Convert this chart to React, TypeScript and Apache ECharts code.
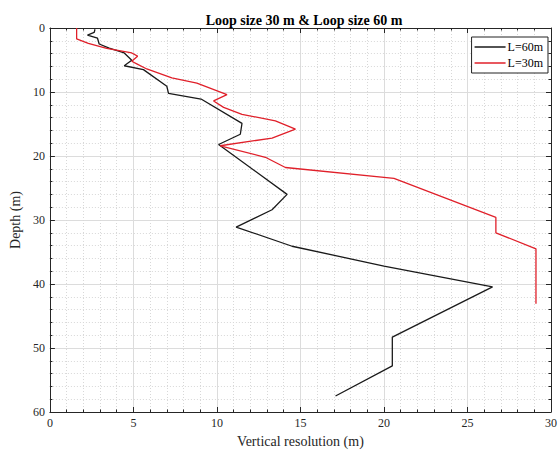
import React, { useEffect, useRef } from "react";
import * as echarts from "echarts";

const titleText = "Loop size 30 m & Loop size 60 m";
const xAxisName = "Vertical resolution (m)";
const yAxisName = "Depth (m)";

// L=60m (black): vertical resolution (m), depth (m)
const res60 = [2.7, 2.65, 2.25, 2.85, 2.95, 3.55, 4.45, 4.9, 4.45, 5.6, 7.0, 7.1, 9.05, 11.5, 11.4, 10.1, 14.2, 13.3, 11.15, 14.5, 20.0, 26.5, 20.5, 20.5, 17.1];
const depth60 = [0.2, 0.7, 1.1, 1.6, 2.5, 3.15, 3.9, 5.05, 5.9, 6.5, 9.1, 10.2, 11.1, 14.9, 16.6, 18.2, 26.0, 28.4, 31.1, 34.1, 37.2, 40.45, 48.3, 52.8, 57.5];

// L=30m (red)
const res30 = [1.6, 1.6, 2.3, 3.4, 4.9, 5.25, 4.9, 5.2, 5.8, 7.3, 8.8, 10.6, 9.8, 10.4, 11.5, 13.5, 14.7, 13.3, 10.2, 12.9, 14.1, 20.6, 26.7, 26.7, 29.1, 29.1];
const depth30 = [0, 1.7, 2.4, 3.2, 3.9, 4.4, 5.2, 5.6, 6.4, 7.8, 8.6, 10.4, 11.4, 12.4, 13.5, 14.5, 15.8, 17.2, 18.4, 20.2, 21.8, 23.5, 29.6, 32.0, 34.5, 43.1];

const FONT = "'Liberation Serif', 'Times New Roman', serif";

export default function App() {
  const ref = useRef<HTMLDivElement>(null);
  useEffect(() => {
    if (!ref.current) return;
    const chart = echarts.init(ref.current, undefined, { renderer: "svg" });
    const pair = (xs: number[], ys: number[]) => xs.map((x, i) => [x, ys[i]]);
    const boxAxisX = {
      type: "value" as const,
      min: 0,
      max: 30,
      interval: 5,
      axisLine: { show: true, onZero: false, lineStyle: { color: "#262626", width: 1 } },
      axisTick: { show: true, inside: true, length: 5, lineStyle: { color: "#262626" } },
      minorTick: { show: true, splitNumber: 5, length: 2.5, lineStyle: { color: "#262626" } },
    };
    const boxAxisY = {
      type: "value" as const,
      min: 0,
      max: 60,
      interval: 10,
      inverse: true,
      axisLine: { show: true, onZero: false, lineStyle: { color: "#262626", width: 1 } },
      axisTick: { show: true, inside: true, length: 5, lineStyle: { color: "#262626" } },
      minorTick: { show: true, splitNumber: 5, length: 2.5, lineStyle: { color: "#262626" } },
    };
    chart.setOption({
      animation: false,
      backgroundColor: "#ffffff",
      title: {
        text: titleText,
        left: 299,
        textAlign: "center",
        top: 8,
        textStyle: { fontFamily: FONT, fontWeight: "bold", fontSize: 14, color: "#000" },
      },
      legend: {
        orient: "vertical",
        right: 12,
        top: 37,
        padding: [4, 5, 4, 3],
        itemGap: 4,
        itemWidth: 31,
        itemHeight: 1.5,
        icon: "rect",
        borderColor: "#222",
        borderWidth: 1,
        borderRadius: 0,
        backgroundColor: "#fff",
        textStyle: { fontFamily: FONT, fontSize: 12, color: "#000", padding: [0, 0, 0, -3] },
        data: ["L=60m", "L=30m"],
      },
      grid: { left: 45, right: 6, top: 28, bottom: 37, containLabel: false },
      xAxis: [
        {
          ...boxAxisX,
          position: "bottom",
          name: xAxisName,
          nameLocation: "middle",
          nameGap: 22,
          nameTextStyle: { fontFamily: FONT, fontSize: 14, color: "#262626" },
          axisLabel: { fontFamily: FONT, fontSize: 12, color: "#262626", margin: 5 },
          splitLine: { show: true, lineStyle: { color: "#dcdcdc", width: 1 } },
          minorSplitLine: { show: true, lineStyle: { color: "#d8d8d8", width: 1, type: [1, 2] } },
        },
        {
          ...boxAxisX,
          position: "top",
          axisLabel: { show: false },
          splitLine: { show: false },
        },
      ],
      yAxis: [
        {
          ...boxAxisY,
          position: "left",
          name: yAxisName,
          nameLocation: "middle",
          nameGap: 24,
          nameRotate: 90,
          nameTextStyle: { fontFamily: FONT, fontSize: 14, color: "#262626" },
          axisLabel: { fontFamily: FONT, fontSize: 12, color: "#262626", margin: 5 },
          splitLine: { show: true, lineStyle: { color: "#dcdcdc", width: 1 } },
          minorSplitLine: { show: true, lineStyle: { color: "#d8d8d8", width: 1, type: [1, 2] } },
        },
        {
          ...boxAxisY,
          position: "right",
          axisLabel: { show: false },
          splitLine: { show: false },
        },
      ],
      series: [
        {
          name: "L=60m",
          type: "line",
          xAxisIndex: 0,
          yAxisIndex: 0,
          symbol: "none",
          color: "#1a1a1a",
          lineStyle: { color: "#1a1a1a", width: 1.3 },
          data: pair(res60, depth60),
        },
        {
          name: "L=30m",
          type: "line",
          xAxisIndex: 0,
          yAxisIndex: 0,
          symbol: "none",
          color: "#e0202a",
          lineStyle: { color: "#e0202a", width: 1.3 },
          data: pair(res30, depth30),
        },
      ],
    });
    return () => chart.dispose();
  }, []);
  return (
    <div
      ref={ref}
      style={{ position: "fixed", left: 0, top: 0, width: 560, height: 453 }}
    />
  );
}
